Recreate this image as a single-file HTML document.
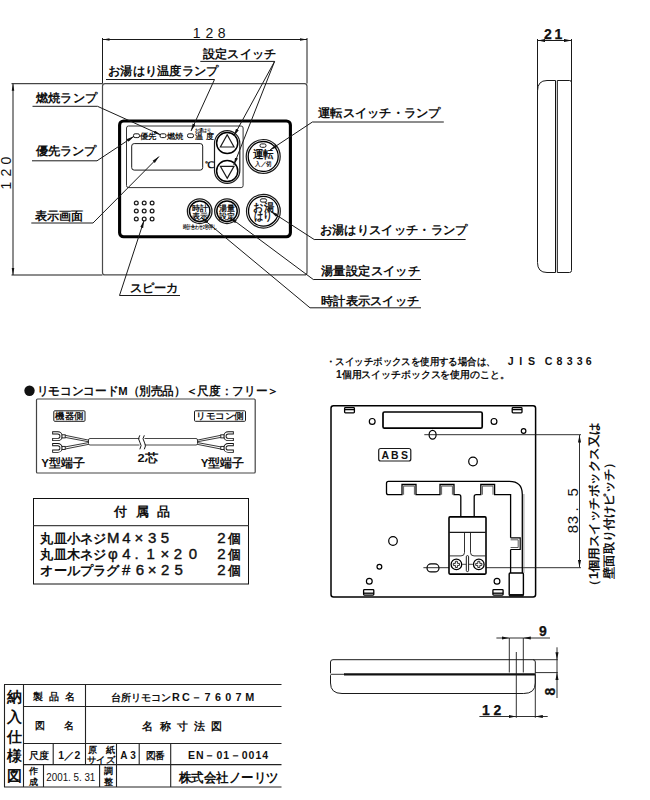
<!DOCTYPE html>
<html lang="ja">
<head>
<meta charset="utf-8">
<title>台所リモコンRC-7607M 名称寸法図</title>
<style>
html,body{margin:0;padding:0;background:#fff;}
body{width:650px;height:800px;overflow:hidden;position:relative;font-family:"Liberation Sans",sans-serif;}
svg{position:absolute;left:0;top:0;display:block;}
text{font-family:"Liberation Sans",sans-serif;fill:#111;}
.l{stroke:#1a1a1a;stroke-width:1;fill:none;}
.t{stroke:#555;stroke-width:0.8;fill:none;}
.k{stroke:#000;stroke-width:1.5;fill:none;}
.b{font-weight:bold;}
.lab{font-size:12.3px;font-weight:bold;}
.dim{font-size:12px;}
.dimb{font-size:14px;font-weight:bold;stroke:#111;stroke-width:.25;}
.s7{font-size:7.5px;font-weight:bold;}
</style>
</head>
<body>
<svg width="650" height="800" viewBox="0 0 650 800">
<defs>
<marker id="ah" viewBox="0 0 10 6" refX="10" refY="3" markerWidth="7" markerHeight="3.2" preserveAspectRatio="none" orient="auto-start-reverse" markerUnits="userSpaceOnUse"><path d="M0,0.6 L10,3 L0,5.4 Z" fill="#111"/></marker>
<marker id="as" viewBox="0 0 10 6" refX="10" refY="3" markerWidth="7.5" markerHeight="3.6" preserveAspectRatio="none" orient="auto-start-reverse" markerUnits="userSpaceOnUse"><path d="M0,0.4 L10,3 L0,5.6 Z" fill="#111"/></marker>
</defs>
<!-- ===== FRONT VIEW ===== -->
<g id="front">
<!-- dimension 128 -->
<path class="l" d="M102.5,38 V83.5 M307,38 V83.5"/>
<path class="l" d="M102.5,39.5 H307" marker-start="url(#ah)" marker-end="url(#ah)"/>
<text x="196.6 209.3 221.6" y="37.5" style="font-size:14px" text-anchor="middle">128</text>
<!-- dimension 120 -->
<path class="l" d="M11.5,83.7 H102.5 M11.5,275 H102.5"/>
<path class="l" d="M13,83.7 V275" marker-start="url(#ah)" marker-end="url(#ah)"/>
<text transform="translate(11,172.7) rotate(-90)" style="font-size:14px" text-anchor="middle" x="-12.8 0 12" y="0">120</text>
<!-- body -->
<rect x="102.5" y="83.7" width="204.5" height="191.2" rx="2.5" fill="none" stroke="#4a4a4a" stroke-width="1.2"/>
<!-- black panel -->
<rect x="119.6" y="121" width="170.8" height="115.8" rx="4" fill="none" stroke="#000" stroke-width="3.1"/>
<!-- inner frame -->
<rect x="126.5" y="126" width="116.6" height="61.6" rx="2" fill="none" stroke="#333" stroke-width="1"/>
<!-- LCD -->
<rect class="l" x="131.7" y="143.6" width="71" height="26.5" rx="2.5"/>
<!-- lamps + small labels -->
<rect class="l" x="133.5" y="133.8" width="6" height="3.8" rx="1.6"/>
<text x="140" y="139" class="s7" textLength="16.5" lengthAdjust="spacingAndGlyphs">優先</text>
<rect class="l" x="160" y="133.8" width="6" height="3.8" rx="1.6"/>
<text x="167" y="139" class="s7" textLength="16.5" lengthAdjust="spacingAndGlyphs">燃焼</text>
<rect class="l" x="187.5" y="133.8" width="6" height="3.8" rx="1.6"/>
<text x="195" y="132" style="font-size:4.8px;font-weight:bold" textLength="16" lengthAdjust="spacingAndGlyphs">お湯はり</text>
<text x="195" y="139.3" class="s7" textLength="18.5" lengthAdjust="spacing">温度</text>
<text x="205" y="167.5" style="font-size:9px;font-weight:bold" textLength="9" lengthAdjust="spacingAndGlyphs">℃</text>
<!-- up/down pill -->
<rect class="l" x="214.5" y="130.6" width="25.3" height="52.8" rx="12.65" style="stroke-width:1.2"/>
<circle class="k" cx="227.2" cy="143" r="10.6"/>
<circle class="k" cx="227.2" cy="171" r="10.6"/>
<path class="l" d="M227.2,134.8 L234,147 H220.4 Z" style="stroke-width:1.2"/>
<path class="l" d="M227.2,178.4 L234,166.3 H220.4 Z" style="stroke-width:1.2"/>
<!-- 運転 button -->
<circle class="l" cx="263.2" cy="156.5" r="17" style="stroke-width:1.2"/>
<circle class="k" cx="263.2" cy="156.5" r="15" style="stroke-width:1.3"/>
<rect class="l" x="260" y="143.9" width="6" height="3.4" rx="1.6"/>
<text x="263.4" y="158.2" text-anchor="middle" style="font-size:11px;font-weight:bold" textLength="21" lengthAdjust="spacingAndGlyphs">運転</text>
<text x="263.3" y="166.2" text-anchor="middle" style="font-size:6.3px;font-weight:bold" textLength="16.5" lengthAdjust="spacingAndGlyphs">入／切</text>
<!-- お湯はり button -->
<circle class="l" cx="263.4" cy="211.2" r="16.9" style="stroke-width:1.2"/>
<circle class="k" cx="263.4" cy="211.2" r="14.9" style="stroke-width:1.3"/>
<rect class="l" x="260.4" y="198.8" width="6.2" height="3.3" rx="1.6"/>
<text x="263.5" y="210.9" text-anchor="middle" style="font-size:10.5px;font-weight:bold" textLength="20.5" lengthAdjust="spacingAndGlyphs">お湯</text>
<text x="263.2" y="220.4" text-anchor="middle" style="font-size:10.5px;font-weight:bold" textLength="18.5" lengthAdjust="spacingAndGlyphs">はり</text>
<!-- 時計表示 / 湯量設定 buttons -->
<circle class="l" cx="199.7" cy="211.2" r="12.3" style="stroke-width:1.3"/>
<circle class="k" cx="199.7" cy="211.2" r="10.2"/>
<text x="199.7" y="210.6" text-anchor="middle" style="font-size:8px;font-weight:bold" textLength="16" lengthAdjust="spacingAndGlyphs">時計</text>
<text x="199.7" y="218.8" text-anchor="middle" style="font-size:8px;font-weight:bold" textLength="16" lengthAdjust="spacingAndGlyphs">表示</text>
<circle class="l" cx="227" cy="211.2" r="12.3" style="stroke-width:1.3"/>
<circle class="k" cx="227" cy="211.2" r="10.2"/>
<text x="227" y="210.6" text-anchor="middle" style="font-size:8px;font-weight:bold" textLength="16" lengthAdjust="spacingAndGlyphs">湯量</text>
<text x="227" y="218.8" text-anchor="middle" style="font-size:8px;font-weight:bold" textLength="16" lengthAdjust="spacingAndGlyphs">設定</text>
<text x="199.8" y="229.3" text-anchor="middle" style="font-size:5.8px;font-weight:bold" textLength="34" lengthAdjust="spacingAndGlyphs">時計合わせ2秒押し</text>
<!-- speaker -->
<g class="l" style="stroke-width:1.25">
<circle cx="136.3" cy="203" r="1.9"/><circle cx="144.2" cy="203" r="1.9"/><circle cx="152.1" cy="203" r="1.9"/>
<circle cx="136.3" cy="211" r="1.9"/><circle cx="144.2" cy="211" r="1.9"/><circle cx="152.1" cy="211" r="1.9"/>
<circle cx="136.3" cy="219" r="1.9"/><circle cx="144.2" cy="219" r="1.9"/><circle cx="152.1" cy="219" r="1.9"/>
</g>
</g>
<!-- ===== LABELS / LEADERS ===== -->
<g id="labels">
<text x="203" y="57.8" class="lab" textLength="73" lengthAdjust="spacingAndGlyphs">設定スイッチ</text>
<path class="l" d="M200.3,61.4 H274.6"/>
<path class="l" d="M274.6,61.4 L233.8,136" marker-end="url(#as)"/>
<path class="l" d="M274.6,61.4 L233.8,165" marker-end="url(#as)"/>

<text x="108" y="74.5" class="lab" textLength="110.5" lengthAdjust="spacingAndGlyphs">お湯はり温度ランプ</text>
<path class="l" d="M106,79.5 H214.5"/>
<path class="l" d="M214.5,79.5 L191,131" marker-end="url(#as)"/>

<text x="36" y="102.3" class="lab" textLength="61" lengthAdjust="spacingAndGlyphs">燃焼ランプ</text>
<path class="l" d="M32.5,106.3 H97.5"/>
<path class="l" d="M97.5,106.3 L161,135" marker-end="url(#as)"/>

<text x="35.5" y="154.8" class="lab" textLength="61" lengthAdjust="spacingAndGlyphs">優先ランプ</text>
<path class="l" d="M32,160.8 H97"/>
<path class="l" d="M97,160.8 L134,136.3" marker-end="url(#as)"/>

<text x="34.5" y="220" class="lab" textLength="48.5" lengthAdjust="spacingAndGlyphs">表示画面</text>
<path class="l" d="M31.3,223 H93"/>
<path class="l" d="M93,223 L159,156.5" marker-end="url(#as)"/>

<text x="129.5" y="292.2" class="lab" textLength="49" lengthAdjust="spacingAndGlyphs">スピーカ</text>
<path class="l" d="M119.5,295.5 H180"/>
<path class="l" d="M119.5,295.5 L144,220.5" marker-end="url(#as)"/>

<text x="318" y="117" class="lab" textLength="122.7" lengthAdjust="spacingAndGlyphs">運転スイッチ・ランプ</text>
<path class="l" d="M312.4,122 H443.8"/>
<path class="l" d="M312.4,122 L270,150" marker-end="url(#as)"/>

<text x="319.5" y="234" class="lab" textLength="148" lengthAdjust="spacingAndGlyphs">お湯はりスイッチ・ランプ</text>
<path class="l" d="M314.2,239.5 H465.6"/>
<path class="l" d="M314.2,239.5 L270.6,211.3" marker-end="url(#as)"/>

<text x="321" y="275" class="lab" textLength="99" lengthAdjust="spacingAndGlyphs">湯量設定スイッチ</text>
<path class="l" d="M313.3,279.5 H421"/>
<path class="l" d="M313.3,279.5 L230,217.5" marker-end="url(#as)"/>

<text x="321" y="305" class="lab" textLength="98" lengthAdjust="spacingAndGlyphs">時計表示スイッチ</text>
<path class="l" d="M310,307.8 H421"/>
<path class="l" d="M310,307.8 L201.3,217.5" marker-end="url(#as)"/>
</g>
<!-- ===== SIDE VIEW ===== -->
<g id="side">
<path class="l" d="M537.5,39 V90 M571.5,39 V83"/>
<path class="l" d="M537.5,40.5 H571.5" marker-start="url(#as)" marker-end="url(#as)"/>
<text x="548 558.5" y="38.7" text-anchor="middle" class="dimb">21</text>
<path class="l" d="M555.5,80.5 H547 Q537.5,80.5 537.5,91 V262.5 Q537.5,272.5 547,272.5 H555.5 M557.3,80.5 H569.5 Q571.5,80.5 571.5,82.5 V270.5 Q571.5,272.5 569.5,272.5 H557.3"/>
<path d="M555.5,80.5 V272.5 M557.3,80.5 V272.5" style="stroke:#111;stroke-width:1;fill:none"/>
</g>
<!-- ===== REMOTE CORD ===== -->
<g id="cord">
<circle cx="29.5" cy="390.8" r="5.2" fill="#111"/><text x="36.8" y="395" style="font-size:11.6px;font-weight:bold" textLength="242" lengthAdjust="spacingAndGlyphs">リモコンコードM（別売品）＜尺度：フリー＞</text>
<rect class="l" x="36.5" y="399" width="218.7" height="74" rx="1" style="stroke:#444;stroke-width:1.2"/>
<rect class="l" x="53.8" y="410.8" width="31.2" height="10.5" rx="1"/>
<text x="55.3" y="419.3" style="font-size:8.6px;font-weight:bold" textLength="28" lengthAdjust="spacingAndGlyphs">機器側</text>
<rect class="l" x="194.5" y="410.8" width="51" height="10.5" rx="1"/>
<text x="196" y="419.3" style="font-size:8.6px;font-weight:bold" textLength="48" lengthAdjust="spacingAndGlyphs">リモコン側</text>
<!-- cable -->
<path class="l" d="M139.5,438.5 H90 Q88.5,438.5 88.5,440 V443.5 Q88.5,445 90,445 H139.5 M144.5,438.5 H196 Q197.5,438.5 197.5,440 V443.5 Q197.5,445 196,445 H144.5" style="stroke:#333;stroke-width:.9"/>
<path class="l" d="M139.8,435.3 q-2.6,3.4 0,6.8 q2.6,3.4 0,7.2 M144.3,435.3 q-2.6,3.4 0,6.8 q2.6,3.4 0,7.2"/>
<g id="yt"><g transform="translate(0.4,0.6)">
<path d="M53.4,432.3 H57.4 A3.3,3.3 0 0 1 57.4,438.9 H53.4 M53.4,444 H57.4 A3.3,3.3 0 0 1 57.4,450.6 H53.4" fill="none" stroke="#111" stroke-width="3.2" stroke-linecap="square"/>
<path d="M53.4,432.3 H57.4 A3.3,3.3 0 0 1 57.4,438.9 H53.4 M53.4,444 H57.4 A3.3,3.3 0 0 1 57.4,450.6 H53.4" fill="none" stroke="#fff" stroke-width="1.4" stroke-linecap="square"/>
<rect x="61.6" y="434.2" width="3.2" height="3.1" fill="#fff" stroke="#111" stroke-width=".9"/>
<rect x="61.6" y="445.8" width="3.2" height="3.1" fill="#fff" stroke="#111" stroke-width=".9"/>
<path class="l" d="M64.8,434.7 L88.5,439.6 M64.8,436.8 L88.5,441.2 M64.8,446.3 L88.5,441.9 M64.8,448.4 L88.5,443.7" style="stroke:#222;stroke-width:.9"/>
</g></g>
<g transform="translate(286,0) scale(-1,1)"><g transform="translate(0.4,0.6)">
<path d="M53.4,432.3 H57.4 A3.3,3.3 0 0 1 57.4,438.9 H53.4 M53.4,444 H57.4 A3.3,3.3 0 0 1 57.4,450.6 H53.4" fill="none" stroke="#111" stroke-width="3.2" stroke-linecap="square"/>
<path d="M53.4,432.3 H57.4 A3.3,3.3 0 0 1 57.4,438.9 H53.4 M53.4,444 H57.4 A3.3,3.3 0 0 1 57.4,450.6 H53.4" fill="none" stroke="#fff" stroke-width="1.4" stroke-linecap="square"/>
<rect x="61.6" y="434.2" width="3.2" height="3.1" fill="#fff" stroke="#111" stroke-width=".9"/>
<rect x="61.6" y="445.8" width="3.2" height="3.1" fill="#fff" stroke="#111" stroke-width=".9"/>
<path class="l" d="M64.8,434.7 L88.5,439.6 M64.8,436.8 L88.5,441.2 M64.8,446.3 L88.5,441.9 M64.8,448.4 L88.5,443.7" style="stroke:#222;stroke-width:.9"/>
</g></g>
<text x="41.3" y="467" style="font-size:11.5px;font-weight:bold" textLength="43.7" lengthAdjust="spacingAndGlyphs">Y型端子</text>
<text x="200.8" y="467" style="font-size:11.5px;font-weight:bold" textLength="43.7" lengthAdjust="spacingAndGlyphs">Y型端子</text>
<text x="137.5" y="462" style="font-size:11.5px;font-weight:bold" textLength="20.5" lengthAdjust="spacingAndGlyphs">2芯</text>
</g>
<!-- ===== ACCESSORIES ===== -->
<g id="acc">
<rect class="l" x="33.5" y="498.5" width="215" height="85.5" style="stroke:#111"/>
<path class="l" d="M33.5,525.6 H248.5" style="stroke:#444;stroke-width:1.3"/>
<g style="font-size:13.3px;font-weight:bold">
<text x="120.8 142.3 163.5" y="516" text-anchor="middle">付属品</text>
<text x="40.4" y="542.8" textLength="66" lengthAdjust="spacingAndGlyphs">丸皿小ネジ</text>
<text x="113.3 126.3 138.9 152.2 164.9" y="542.8" text-anchor="middle" style="font-size:15px;font-weight:normal;stroke:#111;stroke-width:.4">M4×35</text>
<text x="221.5" y="542.8" text-anchor="middle" style="font-size:15px;font-weight:normal;stroke:#111;stroke-width:.4">2</text><text x="228" y="542.8" textLength="12.8" lengthAdjust="spacingAndGlyphs">個</text>
<text x="40.4" y="559" textLength="66" lengthAdjust="spacingAndGlyphs">丸皿木ネジ</text>
<text x="112.8 126.3 136.5 150.7 164.9 178 193" y="559" text-anchor="middle" style="font-size:15px;font-weight:normal;stroke:#111;stroke-width:.4">φ4.1×20</text>
<text x="221.5" y="559" text-anchor="middle" style="font-size:15px;font-weight:normal;stroke:#111;stroke-width:.4">2</text><text x="228" y="559" textLength="12.8" lengthAdjust="spacingAndGlyphs">個</text>
<text x="40.4" y="575.2" textLength="79.2" lengthAdjust="spacingAndGlyphs">オールプラグ</text>
<text x="126.1 139.8 152.2 165.2 178.7" y="575.2" text-anchor="middle" style="font-size:15px;font-weight:normal;stroke:#111;stroke-width:.4">#6×25</text>
<text x="221.5" y="575.2" text-anchor="middle" style="font-size:15px;font-weight:normal;stroke:#111;stroke-width:.4">2</text><text x="228" y="575.2" textLength="12.8" lengthAdjust="spacingAndGlyphs">個</text>
</g>
</g>
<!-- ===== NOTE ===== -->
<g id="note">
<text x="326" y="364.6" style="font-size:10.4px;font-weight:bold" textLength="169.5" lengthAdjust="spacingAndGlyphs">・スイッチボックスを使用する場合は、</text>
<text x="510.8 520.7 531.5 540 548.7 559.5 569.8 579.8 588.6" y="364.6" text-anchor="middle" style="font-size:10.6px;font-weight:bold" xml:space="preserve">JIS C8336</text>
<text x="336" y="377.6" style="font-size:10.4px;font-weight:bold" textLength="173.5" lengthAdjust="spacingAndGlyphs">1個用スイッチボックスを使用のこと。</text>
</g>
<!-- ===== BACK PLATE ===== -->
<g id="back">
<rect class="k" x="331" y="405.7" width="204.6" height="191.3" rx="2.5" style="stroke-width:1.5"/>
<!-- tabs -->
<g class="k" style="stroke-width:1.3">
<rect x="344.6" y="407.7" width="9.8" height="5.2" rx=".8"/><path d="M344.6,409.6 h9.8"/>
<rect x="512.2" y="407.7" width="9.8" height="5.2" rx=".8"/><path d="M512.2,409.6 h9.8"/>
<rect x="363.6" y="589.7" width="10.2" height="5.4" rx=".8"/><path d="M363.6,593.2 h10.2"/>
<rect x="492.9" y="589.7" width="10.2" height="5.4" rx=".8"/><path d="M492.9,593.2 h10.2"/>
</g>
<!-- top slot -->
<rect class="k" x="383" y="412" width="99.2" height="16.2" rx="1.5" style="stroke-width:1.7"/>
<!-- holes -->
<g class="k" style="stroke-width:1.2">
<circle cx="372.2" cy="421.4" r="2.9"/>
<circle cx="494" cy="421.4" r="2.9"/>
<circle cx="523.6" cy="431" r="2.3"/>
<circle cx="473" cy="461.5" r="4.3"/>
<circle cx="393" cy="541" r="4.3"/>
<circle cx="379.4" cy="566.7" r="2.4"/>
<circle cx="369.3" cy="581.2" r="2.9"/>
<circle cx="497" cy="581.2" r="2.9"/>
<ellipse cx="432.6" cy="434.7" rx="3.5" ry="4.4"/>
<rect x="427" y="563.9" width="12" height="8" rx="4"/>
</g>
<!-- pitch lines -->
<path class="l" d="M424.3,434.7 H581 M423.4,567.7 H449 M486,567.7 H581" style="stroke-width:.9"/>
<!-- ABS -->
<rect class="l" x="378.7" y="448.5" width="32.1" height="12.5" rx="2" style="stroke-width:1.2"/>
<text x="385.3 394.8 404.5" y="458.7" text-anchor="middle" style="font-size:10.5px;font-weight:bold">ABS</text>
<!-- wiring channel -->
<path class="k" style="stroke-width:1.3" d="M388.5,481.4 H509.3 Q522.3,481.4 522.3,494.4 V573 M510.6,573 V549.5 M510.6,537.8 V494.7 H494.6 V484.5 H480.8 V494.7 H476.2 Q474.2,494.7 474.2,496.7 V516.8 M460.8,516.8 V496.7 Q460.8,494.7 458.8,494.7 H454 V484.5 H440 V494.7 H416 V484.5 H402 V494.7 H388.5 Q386.5,494.7 386.5,492.7 V483.4 Q386.5,481.4 388.5,481.4"/>
<path class="t" d="M403.6,494.7 V486.1 H414.4 V494.7 M441.6,494.7 V486.1 H452.4 V494.7 M482.4,494.7 V486.1 H493 V494.7" style="stroke:#333"/>
<path class="l" d="M510.6,537.8 H520.2 V549.5 H510.6" style="stroke-width:1.2;stroke:#000"/><path class="l" d="M510.6,539.8 H518.2 V547.5 H510.6" style="stroke-width:.7"/>
<path class="t" d="M523.9,494 V573" style="stroke:#666;stroke-width:.7"/>
<!-- cable exit -->
<rect class="k" x="509.2" y="573" width="14.2" height="22.5" rx="1" style="stroke-width:1.4"/>
<path d="M509.2,594 H523.4 V596.6 H509.2 Z" fill="#111"/>
<!-- terminal block -->
<rect class="k" x="449" y="516.9" width="37" height="57.2" rx="1" style="stroke-width:1.6"/>
<path class="l" d="M449,532.4 H486" style="stroke-width:1.1"/>
<path class="l" d="M464.5,532.4 V552.6 Q464.5,555.9 461,555.9 H449.6 M470.5,532.4 V552.6 Q470.5,555.9 474,555.9 H485.4" style="stroke-width:.9"/>
<rect class="l" x="466.3" y="555.6" width="2.3" height="16" rx="1.15" style="stroke-width:1"/>
<path class="l" d="M462.2,564.3 H466.2 M468.7,564.3 H472.9" style="stroke-width:.8"/>
<g class="k" style="stroke-width:1.3">
<circle cx="456.4" cy="564.4" r="5.3"/><circle cx="478.8" cy="564.4" r="5.3"/>
</g>
<g class="l" style="stroke-width:.9">
<path d="M455.4,561.3 h2 v2.1 h2.1 v2 h-2.1 v2.1 h-2 v-2.1 h-2.1 v-2 h2.1 Z"/>
<path d="M477.8,561.3 h2 v2.1 h2.1 v2 h-2.1 v2.1 h-2 v-2.1 h-2.1 v-2 h2.1 Z"/>
</g>
<!-- 83.5 dimension -->
<path class="l" d="M579.5,435 V567.4" marker-start="url(#as)" marker-end="url(#as)" style="stroke-width:.9"/>
<text transform="translate(577.5,511) rotate(-90)" text-anchor="middle" style="font-size:15px" x="-18 -9 1.7 18.6" y="0">83.5</text>
<text transform="translate(598.2,506.8) rotate(-90)" text-anchor="middle" style="font-size:12.1px;font-weight:bold" textLength="169.6" lengthAdjust="spacingAndGlyphs">（1個用スイッチボックス又は</text>
<text transform="translate(613,517.8) rotate(-90)" text-anchor="middle" style="font-size:12.1px;font-weight:bold" textLength="122" lengthAdjust="spacingAndGlyphs">壁面取り付けピッチ）</text>
</g>
<!-- ===== BOTTOM VIEW ===== -->
<g id="bottom">
<path class="l" d="M535.3,673.3 V662 Q535.3,659.7 533,659.7 H333 Q330.5,659.7 330.5,662 V673.3"/>
<path class="l" d="M330.5,675.2 V683 Q330.5,693.5 342,693.5 H523.7 Q535.3,693.5 535.3,683 V675.2"/>
<path class="t" d="M330.5,674.3 H345" style="stroke:#333;stroke-width:1"/>
<path d="M344,673.2 H535.8 V675.4 H344 Z" fill="#111"/>
<!-- ext lines -->
<path class="l" d="M533,659.7 H557.8 M535.3,672.6 H557.8" style="stroke-width:.9"/>
<!-- 9 -->
<path class="l" d="M509.3,638 V672.5 M523.3,638 V672.5" style="stroke-width:.9"/>
<path class="l" d="M496.4,638 H509.3" marker-end="url(#as)" style="stroke-width:.9"/>
<path class="l" d="M550,638 H523.3" marker-end="url(#as)" style="stroke-width:.9"/>
<path class="l" d="M509.3,638 H523.3" style="stroke-width:.9"/>
<text x="543" y="635.6" text-anchor="middle" class="dimb">9</text>
<!-- 12 -->
<path class="l" d="M516.3,652 V717.8 M535.3,675 V717.8" style="stroke-width:.9"/>
<path class="l" d="M479.4,716.5 H516.3" marker-end="url(#as)" style="stroke-width:.9"/>
<path class="l" d="M547.7,716.5 H535.3" marker-end="url(#as)" style="stroke-width:.9"/>
<path class="l" d="M516.3,716.5 H535.3" style="stroke-width:.9"/>
<text x="486 497.5" y="714.6" text-anchor="middle" class="dimb">12</text>
<!-- 8 -->
<path class="l" d="M557,647.3 V659.7" marker-end="url(#as)" style="stroke-width:.9"/>
<path class="l" d="M557,698 V672.6" marker-end="url(#as)" style="stroke-width:.9"/>
<path class="l" d="M557,659.7 V672.6" style="stroke-width:.9"/>
<text transform="translate(554.6,691.6) rotate(-90)" text-anchor="middle" class="dimb">8</text>
</g>
<!-- ===== TITLE BLOCK ===== -->
<g id="titleblock">
<path class="l" d="M4,684.5 H281.5 M23.5,706.5 H281.5 M23.5,743.5 H281.5 M23.5,764.6 H281.5 M4,787 H281.5" style="stroke:#222;stroke-width:1.1"/>
<path class="l" d="M4.5,684.5 V787 M23.5,684.5 V787 M85.5,684.5 V764.6 M53.2,743.5 V764.6 M116.5,743.5 V787 M139.2,743.5 V764.6 M170.7,743.5 V787 M43.5,764.6 V787 M99.6,764.6 V787" style="stroke:#222;stroke-width:1.1"/>
<g style="font-size:15px;font-weight:bold" text-anchor="middle">
<text x="14.6" y="702">納</text><text x="14.6" y="721.8">入</text><text x="14.6" y="741.6">仕</text><text x="14.6" y="761.4">様</text><text x="14.6" y="781.2">図</text>
</g>
<text x="54.3" y="699.7" text-anchor="middle" style="font-size:9.6px;font-weight:bold" textLength="42" lengthAdjust="spacing">製品名</text>
<text x="54.3" y="729" text-anchor="middle" style="font-size:9.6px;font-weight:bold" textLength="39" lengthAdjust="spacing">図名</text>
<text x="110.5" y="701" style="font-size:10.3px;font-weight:bold" textLength="60.5" lengthAdjust="spacingAndGlyphs">台所リモコン</text><text x="175.9 185.8 196.2 207.5 217.9 228.3 238.4 249.8" y="701" text-anchor="middle" style="font-size:10.8px;font-weight:bold">RC－7607M</text>
<text x="182.3" y="729.7" text-anchor="middle" style="font-size:10.5px;font-weight:bold" textLength="80" lengthAdjust="spacing">名称寸法図</text>
<text x="38.5" y="759" text-anchor="middle" style="font-size:9.8px;font-weight:bold" textLength="20" lengthAdjust="spacingAndGlyphs">尺度</text>
<text x="69.3" y="759" text-anchor="middle" style="font-size:10px;font-weight:bold" textLength="22" lengthAdjust="spacingAndGlyphs">1／2</text>
<text x="101" y="753" text-anchor="middle" style="font-size:9.3px;font-weight:bold" textLength="27" lengthAdjust="spacing">原紙</text>
<text x="101" y="763.3" text-anchor="middle" style="font-size:9.3px;font-weight:bold" textLength="28" lengthAdjust="spacingAndGlyphs">サイズ</text>
<text x="128" y="759" text-anchor="middle" style="font-size:10px;font-weight:bold" textLength="15.5" lengthAdjust="spacing">A3</text>
<text x="155.3" y="758.7" text-anchor="middle" style="font-size:9.5px;font-weight:bold" textLength="19.5" lengthAdjust="spacingAndGlyphs">図番</text>
<text x="228" y="759" text-anchor="middle" style="font-size:10.5px;font-weight:bold" textLength="80" lengthAdjust="spacing">EN－01－0014</text>
<text x="33.6" y="774" text-anchor="middle" style="font-size:9.3px;font-weight:bold">作</text>
<text x="33.6" y="785" text-anchor="middle" style="font-size:9.3px;font-weight:bold">成</text>
<text x="46.3" y="780.6" style="font-size:11.5px" textLength="49" lengthAdjust="spacingAndGlyphs">2001. 5. 31</text>
<text x="108" y="774" text-anchor="middle" style="font-size:9.3px;font-weight:bold">調</text>
<text x="108" y="785" text-anchor="middle" style="font-size:9.3px;font-weight:bold">整</text>
<text x="228.7" y="782" text-anchor="middle" style="font-size:13px;font-weight:bold" textLength="99.5" lengthAdjust="spacingAndGlyphs">株式会社ノーリツ</text>
</g>
</svg>
</body>
</html>
